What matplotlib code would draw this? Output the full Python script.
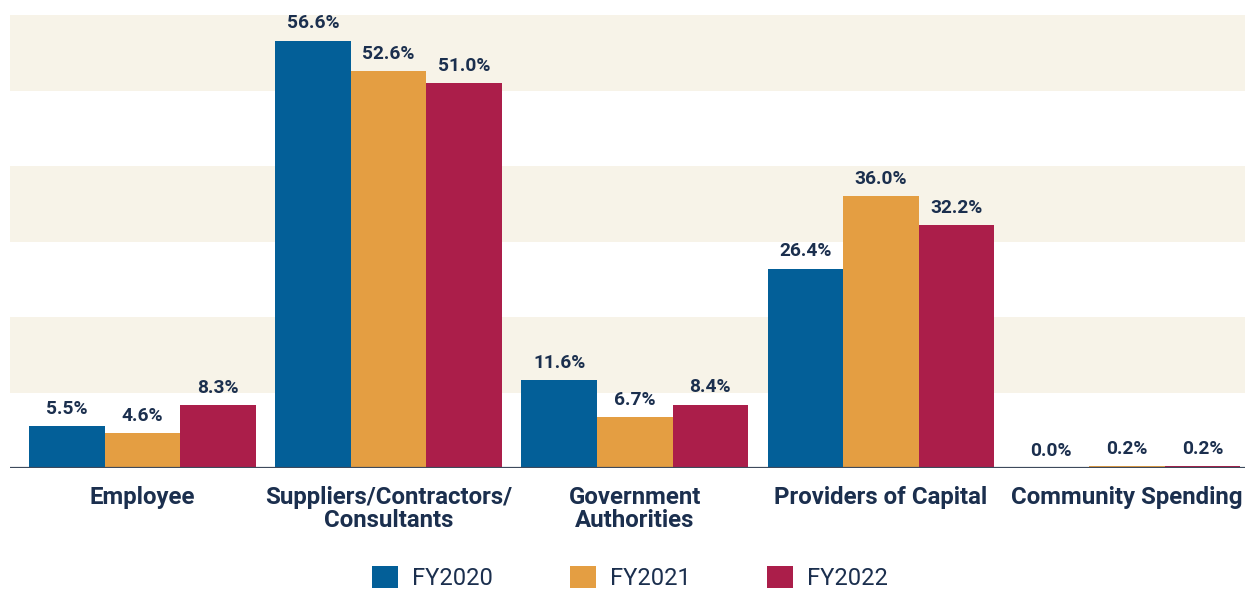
import matplotlib
matplotlib.use("Agg")
import matplotlib.pyplot as plt
from matplotlib.patches import Patch
import numpy as np

categories = ["Employee", "Suppliers/Contractors/\nConsultants", "Government\nAuthorities",
              "Providers of Capital", "Community Spending"]
series = ["FY2020", "FY2021", "FY2022"]
fy2020 = [5.5, 56.6, 11.6, 26.4, 0.0]
fy2021 = [4.6, 52.6, 6.7, 36.0, 0.2]
fy2022 = [8.3, 51.0, 8.4, 32.2, 0.2]
values = [fy2020, fy2021, fy2022]
colors = ["#035f98", "#e49e42", "#ab1e4a"]
text_color = "#1b2f4e"
band_color = "#f7f3e8"

plt.rcParams['font.family'] = ['Roboto', 'DejaVu Sans']

fig = plt.figure(figsize=(12.45, 5.89), dpi=100)
ax = fig.add_axes([10/1245, 121/589, 1 - 10/1245, (468-15)/589])

x = np.arange(len(categories))
w = 0.307
for lo in (10, 30, 50):
    ax.axhspan(lo, lo + 10, color=band_color, zorder=0, lw=0)

for i, (vals, c) in enumerate(zip(values, colors)):
    pos = x + (i - 1) * w
    ax.bar(pos, vals, width=w, color=c, zorder=2, linewidth=0)
    for xp, v in zip(pos, vals):
        ax.annotate(f"{v:.1f}%", (xp, v), xytext=(0, 6), textcoords="offset points",
                    ha="center", va="bottom", fontsize=13.8, fontweight="bold",
                    color=text_color, zorder=3)

ax.axhline(0, color="#3d4a5c", lw=1.6, zorder=3)
ax.set_xlim(-0.539, 4.48)
ax.set_ylim(0, 60)
ax.set_yticks([])
ax.set_xticks(x)
ax.set_xticklabels(categories, fontsize=17.3, fontweight="bold", color=text_color,
                   linespacing=1.0, va="top")
ax.tick_params(axis="x", length=0, pad=13)
for s in ax.spines.values():
    s.set_visible(False)

handles = [Patch(facecolor=c, edgecolor="none", label=s) for c, s in zip(colors, series)]
leg = fig.legend(handles=handles, loc="center", bbox_to_anchor=(630/1245, 1 - 578/589),
                 ncol=3, frameon=False, fontsize=17, handlelength=1.1, handleheight=1.1,
                 handletextpad=0.6, columnspacing=3.23, borderpad=0)
for t in leg.get_texts():
    t.set_color(text_color)

fig.savefig("out.png", dpi=100, facecolor="white")
